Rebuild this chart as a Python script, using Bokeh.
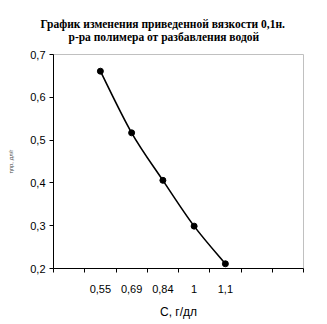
from bokeh.plotting import figure
from bokeh.models import FixedTicker, Range1d, Title
from bokeh.embed import file_html
from bokeh.resources import INLINE

# Data
c_labels = ["0,55", "0,69", "0,84", "1", "1,1"]
eta = [0.661, 0.517, 0.406, 0.299, 0.211]
n_slots = 8
first_slot = 1
y_ticks = [0.2, 0.3, 0.4, 0.5, 0.6, 0.7]
y_tick_labels = ["0,2", "0,3", "0,4", "0,5", "0,6", "0,7"]
title_lines = ["График изменения приведенной вязкости  0,1н.",
               "р-ра полимера от разбавления водой"]
x_title = "С, г/дл"
y_title = "ηпр, дл/г"

xs = [first_slot + i + 0.5 for i in range(len(c_labels))]

p = figure(width=327, height=324, output_backend="svg", toolbar_location=None,
           x_range=Range1d(0, n_slots), y_range=Range1d(0.2, 0.7),
           min_border_left=53, min_border_right=24, min_border_top=54,
           min_border_bottom=56)
p.title.text = ""
p.title.visible = False
for line, so, off in [(title_lines[1], 24, 15), (title_lines[0], -26, -13)]:
    p.add_layout(Title(text=line, align="left", offset=off,
                       text_font="Liberation Serif", text_font_style="bold",
                       text_font_size="11.5px", text_color="black",
                       standoff=so), "above")
p.background_fill_color = "white"
p.border_fill_color = "white"
p.outline_line_color = "#c0c0c0"
p.outline_line_width = 1
p.grid.visible = False

# x axis
xa = p.xaxis[0]
xa.ticker = FixedTicker(ticks=xs, minor_ticks=list(range(0, n_slots + 1)))
xa.major_label_overrides = {x: l for x, l in zip(xs, c_labels)}
xa.major_tick_out = 0
xa.major_tick_in = 0
xa.minor_tick_out = 4
xa.minor_tick_in = 0
xa.minor_tick_line_color = "black"
xa.minor_tick_line_width = 1
xa.axis_line_color = "black"
xa.major_label_standoff = 12
xa.major_label_text_font = "Liberation Sans"
xa.major_label_text_font_size = "11px"
xa.major_label_text_color = "black"
xa.axis_label = x_title
xa.axis_label_text_font = "Liberation Sans"
xa.axis_label_text_font_size = "12px"
xa.axis_label_text_font_style = "normal"
xa.axis_label_text_color = "black"
xa.axis_label_standoff = 9

# y axis
ya = p.yaxis[0]
ya.ticker = FixedTicker(ticks=y_ticks, minor_ticks=[])
ya.major_label_overrides = {t: l for t, l in zip(y_ticks, y_tick_labels)}
ya.major_tick_out = 4
ya.major_tick_in = 0
ya.major_tick_line_color = "black"
ya.axis_line_color = "black"
ya.major_label_standoff = 4
ya.major_label_text_font = "Liberation Sans"
ya.major_label_text_font_size = "11px"
ya.major_label_text_color = "black"
ya.axis_label = y_title
ya.axis_label_text_font = "Liberation Sans"
ya.axis_label_text_font_size = "6px"
ya.axis_label_text_font_style = "normal"
ya.axis_label_text_color = "#444444"
ya.axis_label_standoff = 13

# smooth curve via Catmull-Rom Bezier segments
x0, y0, x1, y1, cx0, cy0, cx1, cy1 = [], [], [], [], [], [], [], []
n = len(xs)
for i in range(n - 1):
    xp = xs[i - 1] if i > 0 else xs[i]
    yp = eta[i - 1] if i > 0 else eta[i]
    xn = xs[i + 2] if i + 2 < n else xs[i + 1]
    yn = eta[i + 2] if i + 2 < n else eta[i + 1]
    x0.append(xs[i]); y0.append(eta[i])
    x1.append(xs[i + 1]); y1.append(eta[i + 1])
    cx0.append(xs[i] + (xs[i + 1] - xp) / 6)
    cy0.append(eta[i] + (eta[i + 1] - yp) / 6)
    cx1.append(xs[i + 1] - (xn - xs[i]) / 6)
    cy1.append(eta[i + 1] - (yn - eta[i]) / 6)
p.bezier(x0=x0, y0=y0, x1=x1, y1=y1, cx0=cx0, cy0=cy0, cx1=cx1, cy1=cy1,
         line_color="black", line_width=1.6)
p.scatter(xs, eta, size=6, color="black")

open("out.html", "w").write(file_html(p, INLINE))
